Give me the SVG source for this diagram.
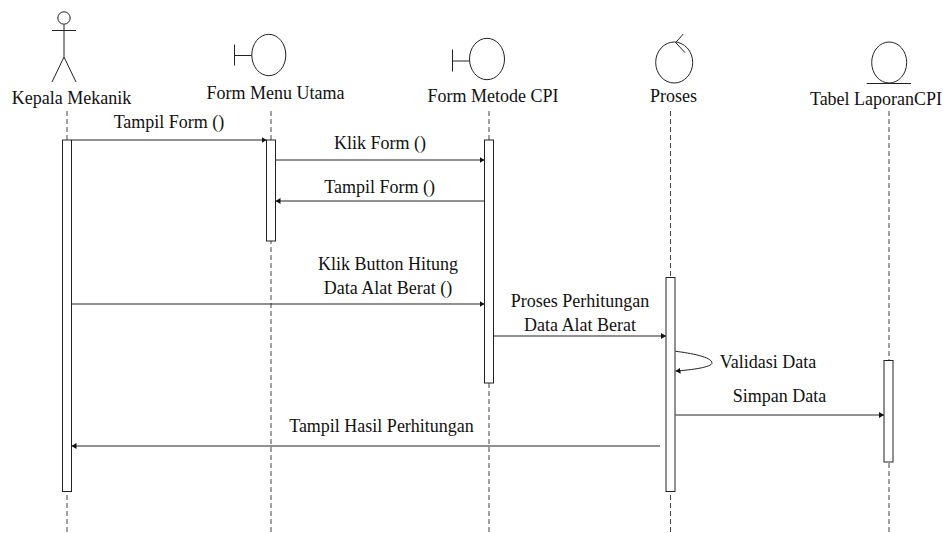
<svg xmlns="http://www.w3.org/2000/svg" width="947" height="533" viewBox="0 0 947 533">
<style>
text{font-family:"Liberation Serif","Times New Roman",serif;font-size:18px;fill:#111;text-anchor:middle}
.s{fill:none;stroke:#222;stroke-width:1}
.b{fill:#fff;stroke:#222;stroke-width:1}
.life{fill:none;stroke:#444;stroke-width:1;stroke-dasharray:5 3}
.m{fill:none;stroke:#222;stroke-width:1;marker-end:url(#a)}
</style>
<defs><marker id="a" markerUnits="userSpaceOnUse" markerWidth="6" markerHeight="7" refX="5" refY="3.500" orient="auto"><path d="M0 0.500L5 3.500L0 6.500Z" fill="#111"/></marker></defs>
<g id="lifelines">
<path class="life" d="M67 111V533"/><path class="life" d="M271 111V533"/><path class="life" d="M489 111V533"/><path class="life" d="M670.500 111V533"/><path class="life" d="M889 111V533"/>
</g>
<g id="kepala-mekanik">
<circle class="s" cx="64" cy="18" r="6.200"/><path class="s" d="M64 24.500V57M52 30.500H76M64 57L52 82M64 57L76 82"/>
<text x="71.500" y="104">Kepala Mekanik</text>
<rect class="b" x="62.500" y="140" width="9" height="351.500"/>
</g>
<g id="form-menu-utama">
<ellipse class="s" cx="268.800" cy="55" rx="17" ry="20.700"/><path class="s" d="M234.500 44.500V65.500M234.500 55.500H251.500"/>
<text x="275.500" y="98.500">Form Menu Utama</text>
<rect class="b" x="266.500" y="140" width="9" height="101"/>
</g>
<g id="form-metode-cpi">
<ellipse class="s" cx="487" cy="59" rx="17.500" ry="20.700"/><path class="s" d="M452.500 49.500V71.500M452.500 61H469.500"/>
<text x="493" y="101.500">Form Metode CPI</text>
<rect class="b" x="484.500" y="140" width="9" height="243"/>
</g>
<g id="proses">
<ellipse class="s" cx="674.200" cy="62.500" rx="18.500" ry="20.500"/><path class="s" d="M683.300 34L675.700 42.500L685 52.700"/>
<text x="673.500" y="101.500">Proses</text>
<rect class="b" x="666" y="277.500" width="9" height="214"/>
</g>
<g id="tabel-laporan-cpi">
<ellipse class="s" cx="889.200" cy="62.500" rx="17.500" ry="20.500"/><path class="s" d="M866.700 83.500H911"/>
<text x="876" y="105">Tabel LaporanCPI</text>
<rect class="b" x="884" y="360.500" width="9" height="101.500"/>
</g>
<g id="connectors">
<path class="m" d="M72 140H266.500"/><path class="m" d="M276 160H484.500"/><path class="m" d="M484.500 201H275.500"/><path class="m" d="M72 304H484.500"/><path class="m" d="M494 336H666"/>
<path class="m" d="M675.500 351.300C690 353 712 357 712 363C712 367 692 370 675.500 371"/>
<path class="m" d="M675.500 415H884"/><path class="m" d="M660 446H71.500"/>
</g>
<g id="labels">
<text x="169" y="128">Tampil Form ()</text>
<text x="380" y="148.500">Klik Form ()</text>
<text x="379.700" y="192.500">Tampil Form ()</text>
<text x="388" y="270">Klik Button Hitung</text>
<text x="388" y="294">Data Alat Berat ()</text>
<text x="580" y="307">Proses Perhitungan</text>
<text x="580" y="331">Data Alat Berat</text>
<text x="768" y="367.500">Validasi Data</text>
<text x="779.500" y="402">Simpan Data</text>
<text x="381.500" y="431.500">Tampil Hasil Perhitungan</text>
</g>
</svg>
